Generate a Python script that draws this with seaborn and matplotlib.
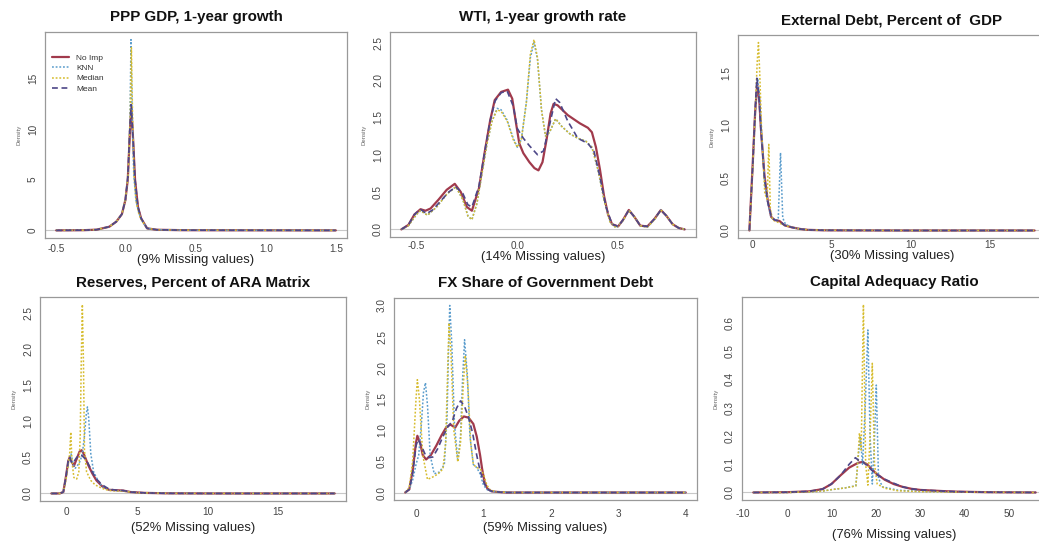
import matplotlib
matplotlib.use("Agg")
import matplotlib.pyplot as plt
import pandas as pd
import seaborn as sns

# ---------------------------------------------------------------- data
methods = ["No Imp", "KNN", "Median", "Mean"]

titles = ["PPP GDP, 1-year growth", "WTI, 1-year growth rate",
          "External Debt, Percent of  GDP", "Reserves, Percent of ARA Matrix",
          "FX Share of Government Debt", "Capital Adequacy Ratio"]
missing_pct = [9, 14, 30, 52, 59, 76]

# PPP GDP, 1-year growth
ppp_noimp_x = [-0.5, -0.3, -0.21, -0.12, -0.07, -0.03, -0.005, 0.012, 0.03, 0.038, 0.05, 0.064, 0.085, 0.107, 0.15, 0.22, 0.4, 0.8, 1.5]
ppp_noimp_y = [0, 0.02, 0.07, 0.36, 0.86, 1.6, 3.0, 5.0, 10.5, 12.0, 9.0, 5.0, 2.3, 1.2, 0.2, 0.06, 0.02, 0.01, 0]
ppp_knn_x = [-0.5, -0.3, -0.21, -0.12, -0.07, -0.03, -0.005, 0.015, 0.028, 0.035, 0.042, 0.055, 0.07, 0.09, 0.107, 0.15, 0.22, 0.4, 0.8, 1.5]
ppp_knn_y = [0, 0.02, 0.07, 0.36, 0.86, 1.6, 3.0, 5.5, 11.0, 18.8, 12.0, 5.5, 3.0, 1.8, 1.1, 0.2, 0.06, 0.02, 0.01, 0]
ppp_median_x = [-0.5, -0.3, -0.21, -0.12, -0.07, -0.03, -0.005, 0.015, 0.03, 0.038, 0.046, 0.058, 0.072, 0.09, 0.107, 0.15, 0.22, 0.4, 0.8, 1.5]
ppp_median_y = [0, 0.02, 0.07, 0.36, 0.86, 1.6, 3.0, 5.5, 11.5, 18.0, 11.5, 5.2, 2.8, 1.7, 1.1, 0.2, 0.06, 0.02, 0.01, 0]
ppp_mean_x = [-0.5, -0.3, -0.21, -0.12, -0.07, -0.03, -0.005, 0.012, 0.03, 0.036, 0.05, 0.064, 0.085, 0.107, 0.15, 0.22, 0.4, 0.8, 1.5]
ppp_mean_y = [0, 0.02, 0.07, 0.36, 0.86, 1.6, 3.0, 5.2, 11.0, 12.4, 9.0, 5.0, 2.3, 1.2, 0.2, 0.06, 0.02, 0.01, 0]

# WTI, 1-year growth rate
wti_noimp_x = [-0.575, -0.54, -0.51, -0.48, -0.455, -0.43, -0.39, -0.35, -0.31, -0.28, -0.25, -0.225, -0.19, -0.16, -0.135, -0.112, -0.08, -0.046, -0.025, -0.005, 0.01, 0.03, 0.06, 0.085, 0.105, 0.125, 0.145, 0.165, 0.18, 0.2, 0.25, 0.31, 0.35, 0.37, 0.39, 0.41, 0.43, 0.45, 0.47, 0.5, 0.525, 0.553, 0.58, 0.61, 0.645, 0.68, 0.712, 0.74, 0.77, 0.8, 0.83]
wti_noimp_y = [0, 0.06, 0.2, 0.27, 0.25, 0.28, 0.4, 0.53, 0.61, 0.5, 0.3, 0.25, 0.55, 1.06, 1.45, 1.73, 1.84, 1.87, 1.75, 1.4, 1.15, 1.02, 0.9, 0.82, 0.79, 0.9, 1.2, 1.55, 1.68, 1.66, 1.53, 1.42, 1.36, 1.3, 1.1, 0.8, 0.45, 0.2, 0.07, 0.04, 0.13, 0.26, 0.17, 0.05, 0.04, 0.14, 0.26, 0.18, 0.07, 0.02, 0]
wti_knn_x = [-0.575, -0.54, -0.5, -0.48, -0.445, -0.4, -0.35, -0.305, -0.27, -0.245, -0.225, -0.2, -0.175, -0.15, -0.125, -0.1, -0.08, -0.05, -0.02, 0.0, 0.02, 0.045, 0.065, 0.083, 0.1, 0.12, 0.14, 0.16, 0.19, 0.22, 0.26, 0.3, 0.34, 0.37, 0.4, 0.43, 0.46, 0.49, 0.525, 0.553, 0.58, 0.61, 0.645, 0.68, 0.712, 0.74, 0.77, 0.8, 0.83]
wti_knn_y = [0, 0.05, 0.2, 0.25, 0.19, 0.3, 0.47, 0.57, 0.4, 0.18, 0.13, 0.35, 0.75, 1.15, 1.45, 1.62, 1.6, 1.46, 1.22, 1.1, 1.2, 1.7, 2.3, 2.5, 2.28, 1.6, 1.25, 1.3, 1.48, 1.38, 1.28, 1.22, 1.18, 1.1, 0.8, 0.4, 0.1, 0.02, 0.12, 0.26, 0.17, 0.05, 0.03, 0.13, 0.26, 0.18, 0.07, 0.02, 0]
wti_median_x = [-0.575, -0.54, -0.5, -0.48, -0.445, -0.4, -0.35, -0.305, -0.27, -0.245, -0.225, -0.2, -0.175, -0.15, -0.125, -0.1, -0.08, -0.05, -0.02, 0.0, 0.02, 0.045, 0.065, 0.083, 0.1, 0.12, 0.14, 0.16, 0.19, 0.22, 0.26, 0.3, 0.34, 0.37, 0.4, 0.43, 0.46, 0.49, 0.525, 0.553, 0.58, 0.61, 0.645, 0.68, 0.712, 0.74, 0.77, 0.8, 0.83]
wti_median_y = [0, 0.05, 0.2, 0.25, 0.19, 0.3, 0.47, 0.57, 0.4, 0.18, 0.13, 0.35, 0.75, 1.15, 1.45, 1.6, 1.58, 1.45, 1.2, 1.1, 1.2, 1.7, 2.35, 2.54, 2.3, 1.6, 1.25, 1.3, 1.48, 1.38, 1.28, 1.22, 1.18, 1.1, 0.8, 0.4, 0.1, 0.02, 0.12, 0.26, 0.17, 0.05, 0.03, 0.13, 0.26, 0.18, 0.07, 0.02, 0]
wti_mean_x = [-0.575, -0.54, -0.51, -0.48, -0.45, -0.42, -0.38, -0.34, -0.305, -0.27, -0.245, -0.225, -0.19, -0.16, -0.135, -0.11, -0.08, -0.05, -0.02, 0.0, 0.03, 0.06, 0.1, 0.13, 0.16, 0.19, 0.21, 0.25, 0.3, 0.35, 0.38, 0.41, 0.44, 0.47, 0.5, 0.525, 0.553, 0.58, 0.61, 0.645, 0.68, 0.712, 0.74, 0.77, 0.8, 0.83]
wti_mean_y = [0, 0.06, 0.2, 0.27, 0.21, 0.26, 0.38, 0.5, 0.57, 0.48, 0.33, 0.3, 0.58, 1.06, 1.45, 1.72, 1.83, 1.85, 1.65, 1.35, 1.22, 1.12, 1.0, 1.05, 1.4, 1.75, 1.7, 1.45, 1.22, 1.15, 1.05, 0.7, 0.3, 0.07, 0.04, 0.13, 0.26, 0.17, 0.05, 0.04, 0.14, 0.26, 0.18, 0.07, 0.02, 0]

# External Debt, Percent of GDP
ext_noimp_x = [-0.17, 0.04, 0.19, 0.32, 0.45, 0.56, 0.78, 0.99, 1.2, 1.41, 1.73, 2.04, 2.5, 3.0, 3.5, 4.5, 6.0, 10.0, 17.8]
ext_noimp_y = [0, 0.64, 1.12, 1.39, 1.25, 0.96, 0.52, 0.28, 0.13, 0.1, 0.09, 0.05, 0.03, 0.015, 0.006, 0.002, 0.001, 0, 0]
ext_knn_x = [-0.17, 0.04, 0.2, 0.35, 0.45, 0.6, 0.8, 1.0, 1.2, 1.5, 1.65, 1.79, 1.93, 2.1, 2.5, 3.0, 3.5, 4.5, 10.0, 17.8]
ext_knn_y = [0, 0.6, 1.12, 1.45, 1.3, 0.9, 0.45, 0.25, 0.12, 0.1, 0.12, 0.74, 0.12, 0.06, 0.03, 0.015, 0.006, 0.002, 0, 0]
ext_median_x = [-0.17, 0.04, 0.2, 0.32, 0.4, 0.48, 0.6, 0.8, 0.95, 1.05, 1.15, 1.3, 1.6, 2.0, 2.5, 3.0, 3.5, 4.5, 10.0, 17.8]
ext_median_y = [0, 0.6, 1.15, 1.6, 1.79, 1.5, 0.95, 0.35, 0.3, 0.82, 0.2, 0.1, 0.08, 0.05, 0.03, 0.015, 0.006, 0.002, 0, 0]
ext_mean_x = [-0.17, 0.04, 0.19, 0.3, 0.42, 0.56, 0.78, 0.99, 1.2, 1.41, 1.73, 2.04, 2.5, 3.0, 3.5, 4.5, 10.0, 17.8]
ext_mean_y = [0, 0.62, 1.15, 1.45, 1.3, 0.95, 0.5, 0.27, 0.14, 0.1, 0.09, 0.05, 0.03, 0.015, 0.006, 0.002, 0, 0]

# Reserves, Percent of ARA Matrix
res_noimp_x = [-1.1, -0.5, -0.25, -0.05, 0.1, 0.2, 0.35, 0.5, 0.7, 0.9, 1.05, 1.2, 1.5, 1.8, 2.1, 2.5, 3.0, 3.5, 4.0, 4.5, 5.5, 7.0, 10.0, 19.0]
res_noimp_y = [0, 0, 0.02, 0.25, 0.45, 0.5, 0.44, 0.38, 0.48, 0.58, 0.6, 0.55, 0.4, 0.28, 0.18, 0.1, 0.05, 0.045, 0.04, 0.02, 0.008, 0.002, 0, 0]
res_knn_x = [-1.1, -0.5, -0.25, -0.05, 0.1, 0.2, 0.3, 0.45, 0.6, 0.8, 0.95, 1.1, 1.25, 1.38, 1.46, 1.55, 1.7, 1.9, 2.2, 2.5, 3.0, 3.5, 4.0, 5.0, 7.0, 10.0, 19.0]
res_knn_y = [0, 0, 0.02, 0.22, 0.42, 0.5, 0.55, 0.4, 0.35, 0.4, 0.45, 0.55, 0.8, 1.1, 1.2, 1.05, 0.55, 0.3, 0.18, 0.1, 0.05, 0.04, 0.035, 0.01, 0.002, 0, 0]
res_median_x = [-1.1, -0.5, -0.25, -0.05, 0.1, 0.2, 0.28, 0.36, 0.5, 0.7, 0.85, 0.95, 1.02, 1.1, 1.18, 1.25, 1.4, 1.7, 2.0, 2.5, 3.0, 3.5, 4.0, 5.0, 7.0, 10.0, 19.0]
res_median_y = [0, 0, 0.02, 0.2, 0.4, 0.55, 0.85, 0.45, 0.22, 0.2, 0.3, 0.8, 1.8, 2.62, 1.8, 0.6, 0.3, 0.18, 0.12, 0.07, 0.04, 0.035, 0.03, 0.01, 0.002, 0, 0]
res_mean_x = [-1.1, -0.5, -0.25, -0.05, 0.1, 0.2, 0.35, 0.5, 0.7, 0.9, 1.1, 1.3, 1.5, 1.8, 2.1, 2.5, 3.0, 3.5, 4.0, 4.5, 5.5, 7.0, 10.0, 19.0]
res_mean_y = [0, 0, 0.02, 0.25, 0.45, 0.5, 0.42, 0.44, 0.5, 0.53, 0.52, 0.48, 0.42, 0.3, 0.2, 0.12, 0.06, 0.045, 0.04, 0.02, 0.008, 0.002, 0, 0]

# FX Share of Government Debt
fx_noimp_x = [-0.16, -0.1, -0.05, 0.0, 0.02, 0.06, 0.1, 0.15, 0.22, 0.3, 0.38, 0.45, 0.51, 0.58, 0.64, 0.71, 0.78, 0.85, 0.9, 0.95, 0.98, 1.02, 1.06, 1.12, 1.2, 1.35, 2.0, 3.0, 4.0]
fx_noimp_y = [0, 0.05, 0.35, 0.8, 0.91, 0.8, 0.6, 0.53, 0.6, 0.75, 0.92, 1.05, 1.09, 1.04, 1.15, 1.22, 1.2, 1.1, 0.9, 0.6, 0.38, 0.15, 0.06, 0.02, 0.01, 0, 0, 0, 0]
fx_knn_x = [-0.16, -0.1, -0.05, 0.0, 0.04, 0.08, 0.11, 0.14, 0.17, 0.21, 0.27, 0.35, 0.42, 0.46, 0.48, 0.5, 0.53, 0.57, 0.62, 0.66, 0.69, 0.72, 0.76, 0.8, 0.85, 0.9, 0.95, 1.0, 1.05, 1.1, 1.2, 1.4, 2.0, 3.0, 4.0]
fx_knn_y = [0, 0.05, 0.2, 0.45, 0.6, 1.1, 1.6, 1.76, 1.4, 0.6, 0.3, 0.33, 0.45, 1.2, 2.2, 3.0, 2.4, 1.1, 0.5, 0.9, 1.8, 2.45, 1.9, 0.9, 0.45, 0.4, 0.3, 0.12, 0.05, 0.02, 0.01, 0, 0, 0, 0]
fx_median_x = [-0.16, -0.1, -0.05, 0.0, 0.02, 0.05, 0.1, 0.17, 0.25, 0.33, 0.4, 0.44, 0.47, 0.49, 0.52, 0.56, 0.62, 0.66, 0.7, 0.73, 0.77, 0.81, 0.85, 0.9, 0.95, 1.0, 1.05, 1.1, 1.2, 1.4, 2.0, 3.0, 4.0]
fx_median_y = [0, 0.08, 0.5, 1.5, 1.81, 1.5, 0.6, 0.21, 0.25, 0.3, 0.38, 0.8, 2.0, 2.72, 2.2, 1.0, 0.49, 0.8, 1.7, 2.2, 1.7, 0.8, 0.45, 0.4, 0.38, 0.3, 0.12, 0.04, 0.01, 0, 0, 0, 0]
fx_mean_x = [-0.16, -0.1, -0.05, 0.0, 0.03, 0.08, 0.14, 0.2, 0.25, 0.32, 0.4, 0.47, 0.54, 0.6, 0.66, 0.72, 0.78, 0.84, 0.9, 0.95, 1.0, 1.05, 1.12, 1.3, 2.0, 3.0, 4.0]
fx_mean_y = [0, 0.05, 0.3, 0.75, 0.85, 0.75, 0.6, 0.56, 0.57, 0.7, 0.9, 1.05, 1.15, 1.35, 1.47, 1.38, 1.2, 0.95, 0.6, 0.35, 0.18, 0.06, 0.02, 0, 0, 0, 0]

# Capital Adequacy Ratio
car_noimp_x = [-7.6, 0, 5, 8, 10, 12, 14, 16, 17, 18, 20, 22, 24, 26, 28, 30, 35, 38, 45, 56]
car_noimp_y = [0, 0.001, 0.004, 0.012, 0.03, 0.06, 0.088, 0.105, 0.108, 0.1, 0.068, 0.045, 0.03, 0.02, 0.013, 0.009, 0.005, 0.003, 0.001, 0]
car_knn_x = [-7.6, 0, 5, 8, 10, 13, 15.5, 16.0, 16.5, 17.0, 17.6, 18.2, 18.7, 19.2, 19.6, 20.1, 20.6, 21.5, 25, 30, 40, 56]
car_knn_y = [0, 0, 0.002, 0.005, 0.01, 0.016, 0.024, 0.12, 0.2, 0.1, 0.3, 0.575, 0.2, 0.03, 0.15, 0.38, 0.05, 0.02, 0.008, 0.004, 0.001, 0]
car_median_x = [-7.6, 0, 5, 8, 10, 13, 15.5, 15.9, 16.3, 16.7, 17.2, 17.7, 18.2, 18.7, 19.2, 19.7, 20.3, 22, 25, 30, 40, 56]
car_median_y = [0, 0, 0.002, 0.005, 0.01, 0.016, 0.023, 0.1, 0.21, 0.15, 0.665, 0.1, 0.026, 0.2, 0.457, 0.1, 0.03, 0.015, 0.006, 0.003, 0.001, 0]
car_mean_x = [-7.6, 0, 5, 8, 10, 12, 14, 15.4, 16, 17, 18, 20, 22, 24, 26, 28, 30, 35, 38, 45, 56]
car_mean_y = [0, 0.001, 0.004, 0.012, 0.03, 0.06, 0.1, 0.123, 0.115, 0.11, 0.095, 0.065, 0.047, 0.033, 0.02, 0.013, 0.009, 0.005, 0.003, 0.001, 0]

# tick positions and labels
ppp_xticks, ppp_xlabels = [-0.5, 0.0, 0.5, 1.0, 1.5], ["-0.5", "0.0", "0.5", "1.0", "1.5"]
ppp_yticks, ppp_ylabels = [0, 5, 10, 15], ["0", "5", "10", "15"]
wti_xticks, wti_xlabels = [-0.5, 0.0, 0.5], ["-0.5", "0.0", "0.5"]
wti_yticks, wti_ylabels = [0, 0.5, 1.0, 1.5, 2.0, 2.5], ["0.0", "0.5", "1.0", "1.5", "2.0", "2.5"]
ext_xticks, ext_xlabels = [0, 5, 10, 15], ["0", "5", "10", "15"]
ext_yticks, ext_ylabels = [0, 0.5, 1.0, 1.5], ["0.0", "0.5", "1.0", "1.5"]
res_xticks, res_xlabels = [0, 5, 10, 15], ["0", "5", "10", "15"]
res_yticks, res_ylabels = [0, 0.5, 1.0, 1.5, 2.0, 2.5], ["0.0", "0.5", "1.0", "1.5", "2.0", "2.5"]
fx_xticks, fx_xlabels = [0, 1, 2, 3, 4], ["0", "1", "2", "3", "4"]
fx_yticks, fx_ylabels = [0, 0.5, 1.0, 1.5, 2.0, 2.5, 3.0], ["0.0", "0.5", "1.0", "1.5", "2.0", "2.5", "3.0"]
car_xticks, car_xlabels = [-10, 0, 10, 20, 30, 40, 50], ["-10", "0", "10", "20", "30", "40", "50"]
car_yticks, car_ylabels = [0, 0.1, 0.2, 0.3, 0.4, 0.5, 0.6], ["0.0", "0.1", "0.2", "0.3", "0.4", "0.5", "0.6"]

# ---------------------------------------------------------------- styling
sns.set_style("white")
plt.rcParams["font.family"] = ["Liberation Sans", "DejaVu Sans"]

styles = {
    "No Imp": dict(color="#a13a4c", linestyle="-", linewidth=1.6),
    "KNN":    dict(color="#5a9ccc", linestyle=(0, (1.2, 1.2)), linewidth=1.1),
    "Median": dict(color="#d6bc2e", linestyle=(0, (1.2, 1.2)), linewidth=1.1),
    "Mean":   dict(color="#4d4788", linestyle=(0, (3.5, 2.2)), linewidth=1.2),
}

W, H = 1039, 548
PX = 72 / 100  # points per pixel
# axes boxes in pixels: left, top, right, bottom
boxes = [(45, 32, 347, 238), (390, 32, 696, 237), (738, 35, 1046, 238),
         (40, 297, 346, 501), (394, 298, 697, 500), (742, 297, 1047, 500)]
# distance (px) below each box of the tick-label centres and of the caption
xtick_offset = [10.5, 8.0, 6.0, 10.7, 13.0, 13.0]
xlabel_gap = [22, 20, 17.5, 27, 28, 35]
tick_len_px = 4.2

panels = [
    ([ppp_noimp_x, ppp_knn_x, ppp_median_x, ppp_mean_x], [ppp_noimp_y, ppp_knn_y, ppp_median_y, ppp_mean_y],
     ppp_xticks, ppp_xlabels, ppp_yticks, ppp_ylabels),
    ([wti_noimp_x, wti_knn_x, wti_median_x, wti_mean_x], [wti_noimp_y, wti_knn_y, wti_median_y, wti_mean_y],
     wti_xticks, wti_xlabels, wti_yticks, wti_ylabels),
    ([ext_noimp_x, ext_knn_x, ext_median_x, ext_mean_x], [ext_noimp_y, ext_knn_y, ext_median_y, ext_mean_y],
     ext_xticks, ext_xlabels, ext_yticks, ext_ylabels),
    ([res_noimp_x, res_knn_x, res_median_x, res_mean_x], [res_noimp_y, res_knn_y, res_median_y, res_mean_y],
     res_xticks, res_xlabels, res_yticks, res_ylabels),
    ([fx_noimp_x, fx_knn_x, fx_median_x, fx_mean_x], [fx_noimp_y, fx_knn_y, fx_median_y, fx_mean_y],
     fx_xticks, fx_xlabels, fx_yticks, fx_ylabels),
    ([car_noimp_x, car_knn_x, car_median_x, car_mean_x], [car_noimp_y, car_knn_y, car_median_y, car_mean_y],
     car_xticks, car_xlabels, car_yticks, car_ylabels),
]

fig = plt.figure(figsize=(W / 100, H / 100), dpi=100)
fig.patch.set_facecolor("white")

for i, (xs, ys, xt, xtl, yt, ytl) in enumerate(panels):
    l, t, r, b = boxes[i]
    ax = fig.add_axes([l / W, 1 - b / H, (r - l) / W, (b - t) / H])

    # zero line drawn under the densities
    ax.axhline(0, color="#c8c8c8", linewidth=0.8, zorder=0)

    for m, x, y in zip(methods, xs, ys):
        df = pd.DataFrame({"x": x, "y": y})
        sns.lineplot(data=df, x="x", y="y", ax=ax, estimator=None, sort=False,
                     label=m if i == 0 else None, legend=False, **styles[m])

    # R-style 4% padding around the data range
    xmin = min(min(x) for x in xs)
    xmax = max(max(x) for x in xs)
    ymax = max(max(y) for y in ys)
    xr = xmax - xmin
    ax.set_xlim(xmin - 0.04 * xr, xmax + 0.04 * xr)
    ax.set_ylim(-0.04 * ymax, 1.04 * ymax)

    ax.set_xticks(xt)
    ax.set_xticklabels(xtl)
    ax.set_yticks(yt)
    ax.set_yticklabels(ytl, rotation=90, va="center")
    ax.tick_params(axis="both", direction="out", length=tick_len_px * PX, width=0.7,
                   color="#777777", labelsize=7.2, labelcolor="#444444")
    ax.tick_params(axis="x", pad=(xtick_offset[i] - tick_len_px - 4.3) * PX)
    ax.tick_params(axis="y", pad=2.0)
    for s in ax.spines.values():
        s.set_color("#999999")
        s.set_linewidth(0.9)

    ax.set_xlabel("")
    ax.set_ylabel("")
    ax.annotate(titles[i], xy=(0.5, 1), xycoords="axes fraction",
                xytext=(0, 10.5), textcoords="offset points",
                ha="center", va="center", fontsize=10.9, fontweight="bold",
                color="#111111")
    ax.annotate(f"({missing_pct[i]}% Missing values)", xy=(0.5, 0),
                xycoords="axes fraction", xytext=(0, -xlabel_gap[i] * PX),
                textcoords="offset points", ha="center", va="center",
                fontsize=9.4, color="#222222")
    ax.annotate("Density", xy=(0, 0.5), xycoords="axes fraction",
                xytext=(-19, 0), textcoords="offset points", rotation=90,
                ha="center", va="center", fontsize=4.3, color="#666666")

    if i == 0:
        ax.legend(loc="upper left", bbox_to_anchor=(7 / 302, 1 - 22 / 206),
                  frameon=False, fontsize=6, handlelength=2.0,
                  handletextpad=0.9, labelspacing=0.3, borderaxespad=0,
                  borderpad=0, labelcolor="#333333")

fig.savefig("out.png", dpi=100, facecolor="white")
